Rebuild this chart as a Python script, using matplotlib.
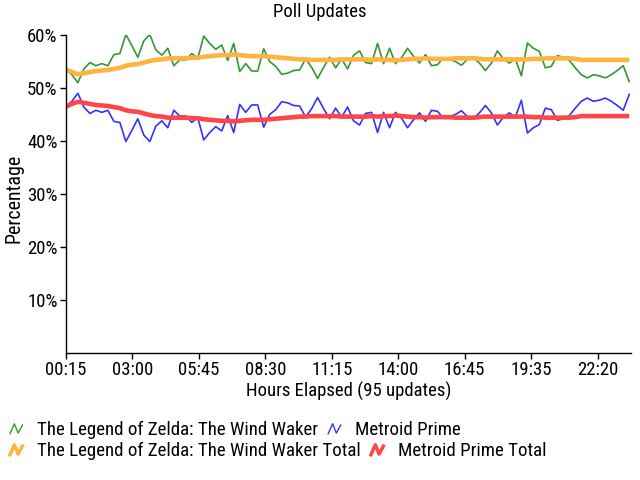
import numpy as np
import matplotlib
matplotlib.use("Agg")
import matplotlib.pyplot as plt
from matplotlib import font_manager
from matplotlib.font_manager import FontProperties
from matplotlib.lines import Line2D
from matplotlib.legend_handler import HandlerBase

# pick a narrow/condensed font if one is installed
def find_narrow():
    fl = font_manager.fontManager.ttflist
    def ok(f):
        return f.style == 'normal' and f.weight in (400, 'normal', 'regular')
    prefs = [
        lambda f: f.name == 'Liberation Sans Narrow',
        lambda f: f.name == 'Roboto Condensed',
        lambda f: f.name.startswith('Noto Sans') and 'CJK' not in f.name and f.stretch in ('condensed', 'semi-condensed'),
        lambda f: f.name.startswith('Open Sans') and f.stretch in ('condensed', 'semi-condensed'),
        lambda f: 'Condensed' in f.name and 'Noto' in f.name and 'CJK' not in f.name,
        lambda f: f.name == 'DejaVu Sans' and f.stretch == 'condensed',
    ]
    for p in prefs:
        for f in fl:
            if ok(f) and p(f):
                return f.fname, f.name
    return None, None

fpath, fname_ = find_narrow()
if fpath:
    FP = lambda size: FontProperties(fname=fpath, size=size)
    narrow = fname_ != 'DejaVu Sans'
else:
    FP = lambda size: FontProperties(family='Liberation Sans', size=size)
    narrow = False
S = 13.5 if narrow else 12
SL = 13.6 if narrow else 12

tick_labels = ["00:15", "03:00", "05:45", "08:30", "11:15", "14:00", "16:45", "19:35", "22:20"]

zelda = [53.5, 52.5, 51.0, 53.6, 54.8, 54.2, 54.6, 54.2, 56.3, 56.5,
         60.1, 58.0, 55.8, 58.9, 60.1, 57.2, 56.2, 57.5, 54.2, 55.3,
         55.3, 56.5, 55.6, 59.8, 58.4, 57.3, 58.1, 55.2, 58.4, 53.1,
         54.6, 53.2, 53.2, 57.4, 55.0, 54.1, 52.6, 52.8, 53.3, 53.4,
         55.5, 53.9, 51.8, 53.9, 55.8, 53.8, 55.5, 53.6, 56.2, 57.0,
         54.8, 54.6, 58.4, 54.6, 57.5, 54.6, 55.7, 57.5, 56.0, 54.7,
         56.3, 54.2, 54.4, 55.7, 55.4, 55.0, 54.3, 55.4, 55.7, 54.7,
         53.3, 54.7, 57.0, 55.5, 54.7, 55.5, 52.3, 58.5, 57.5, 56.9,
         53.8, 54.1, 56.1, 55.8, 55.2, 53.8, 52.5, 51.9, 52.5, 52.3,
         51.9, 52.5, 53.3, 54.2, 51.2]

metroid = [46.5, 47.5, 49.0, 46.4, 45.2, 45.8, 45.4, 45.8, 43.7, 43.5,
           39.9, 42.0, 44.2, 41.1, 39.9, 42.8, 43.8, 42.5, 45.8, 44.7,
           44.7, 43.5, 44.4, 40.2, 41.6, 42.7, 41.9, 44.8, 41.6, 46.9,
           45.4, 46.8, 46.8, 42.6, 45.0, 45.9, 47.4, 47.2, 46.7, 46.6,
           44.5, 46.1, 48.2, 46.1, 44.2, 46.2, 44.5, 46.4, 43.8, 43.0,
           45.2, 45.4, 41.6, 45.4, 42.5, 45.4, 44.3, 42.5, 44.0, 45.3,
           43.7, 45.8, 45.6, 44.3, 44.6, 45.0, 45.7, 44.6, 44.3, 45.3,
           46.7, 45.3, 43.0, 44.5, 45.3, 44.5, 47.7, 41.5, 42.5, 43.1,
           46.2, 45.9, 43.9, 44.2, 44.8, 46.2, 47.5, 48.1, 47.5, 47.7,
           48.1, 47.5, 46.7, 45.8, 48.8]

zelda_total = [53.5, 53.0, 52.6, 52.8, 53.0, 53.2, 53.3, 53.4, 53.6, 53.8,
               54.2, 54.4, 54.5, 54.8, 55.1, 55.3, 55.4, 55.6, 55.6, 55.6,
               55.6, 55.7, 55.7, 55.9, 56.0, 56.1, 56.2, 56.2, 56.3, 56.2,
               56.1, 56.0, 56.0, 56.0, 55.9, 55.8, 55.7, 55.6, 55.5, 55.4,
               55.4, 55.3, 55.3, 55.3, 55.3, 55.3, 55.4, 55.4, 55.4, 55.4,
               55.4, 55.3, 55.4, 55.3, 55.3, 55.2, 55.3, 55.4, 55.5, 55.5,
               55.6, 55.5, 55.5, 55.5, 55.5, 55.6, 55.6, 55.6, 55.6, 55.5,
               55.4, 55.4, 55.4, 55.4, 55.4, 55.4, 55.4, 55.4, 55.5, 55.5,
               55.6, 55.6, 55.6, 55.6, 55.6, 55.5, 55.3, 55.3, 55.3, 55.3,
               55.3, 55.3, 55.3, 55.3, 55.3]

metroid_total = [46.5, 47.0, 47.4, 47.2, 47.0, 46.8, 46.7, 46.6, 46.4, 46.2,
                 45.8, 45.6, 45.5, 45.2, 44.9, 44.7, 44.6, 44.4, 44.4, 44.4,
                 44.4, 44.3, 44.3, 44.1, 44.0, 43.9, 43.8, 43.8, 43.7, 43.8,
                 43.9, 44.0, 44.0, 44.0, 44.1, 44.2, 44.3, 44.4, 44.5, 44.6,
                 44.6, 44.7, 44.7, 44.7, 44.7, 44.7, 44.6, 44.6, 44.6, 44.6,
                 44.6, 44.7, 44.6, 44.7, 44.7, 44.8, 44.7, 44.6, 44.5, 44.5,
                 44.4, 44.5, 44.5, 44.5, 44.5, 44.4, 44.4, 44.4, 44.4, 44.5,
                 44.6, 44.6, 44.6, 44.6, 44.6, 44.6, 44.6, 44.6, 44.5, 44.5,
                 44.4, 44.4, 44.4, 44.4, 44.4, 44.5, 44.7, 44.7, 44.7, 44.7,
                 44.7, 44.7, 44.7, 44.7, 44.7]

x = np.arange(len(zelda))
TICK_STEP = 11.09

fig = plt.figure(figsize=(6.4, 4.8), dpi=100)
ax = fig.add_axes([0.103, 0.2646, 0.883, 0.6625])

ax.plot(x, zelda, color='#339933', lw=1.2)
ax.plot(x, metroid, color='#3333ff', lw=1.2)
ax.plot(x, zelda_total, color='#ffb340', lw=3.3, solid_capstyle='butt')
ax.plot(x, metroid_total, color='#ff4545', lw=3.3, solid_capstyle='butt')

ax.set_xlim(0, 94.3)
ax.set_ylim(0, 60)
yt = [10, 20, 30, 40, 50, 60]
ax.set_yticks(yt)
ax.set_yticklabels([f"{v}%" for v in yt], fontproperties=FP(S))
ax.set_xticks(np.arange(len(tick_labels)) * TICK_STEP)
ax.set_xticklabels(tick_labels, fontproperties=FP(S))
ax.tick_params(axis='both', direction='out', length=4, width=1, colors='black', pad=2)
for s in ['top', 'right']:
    ax.spines[s].set_visible(False)
for s in ['left', 'bottom']:
    ax.spines[s].set_linewidth(1)
    ax.spines[s].set_color('black')

fig.text(0.5, 1 - 12 / 480, "Poll Updates", fontproperties=FP(S), ha='center', va='center')
ax.set_xlabel("Hours Elapsed (95 updates)", fontproperties=FP(S), labelpad=2)
ax.set_ylabel("Percentage", fontproperties=FP(S + 0.8))
ax.yaxis.set_label_coords(-0.075, 0.487)


class ZigZag(HandlerBase):
    def create_artists(self, legend, orig_handle, xdescent, ydescent, width, height, fontsize, trans):
        xs = np.array([0.0, 0.35, 0.65, 1.0]) * width - xdescent
        ys = np.array([0.1, 0.85, 0.15, 0.75]) * height - ydescent
        ln = Line2D(xs, ys, color=orig_handle.get_color(),
                    lw=orig_handle.get_linewidth(), transform=trans)
        return [ln]


h1 = [Line2D([], [], color='#339933', lw=1.0), Line2D([], [], color='#3333ff', lw=1.0)]
h2 = [Line2D([], [], color='#ffb340', lw=2.5), Line2D([], [], color='#ff4545', lw=2.5)]
lab1 = ["The Legend of Zelda: The Wind Waker", "Metroid Prime"]
lab2 = ["The Legend of Zelda: The Wind Waker Total", "Metroid Prime Total"]
hm = {Line2D: ZigZag()}
common = dict(loc='center left', ncol=2, frameon=False, prop=FP(SL), handlelength=0.66,
              handletextpad=0.76, columnspacing=0.55, handler_map=hm, borderaxespad=0, borderpad=0)
fig.legend(h1, lab1, bbox_to_anchor=(10 / 640, 1 - 430 / 480), **common)
fig.legend(h2, lab2, bbox_to_anchor=(10 / 640, 1 - 451 / 480), **common)

fig.savefig("out.png", dpi=100)
